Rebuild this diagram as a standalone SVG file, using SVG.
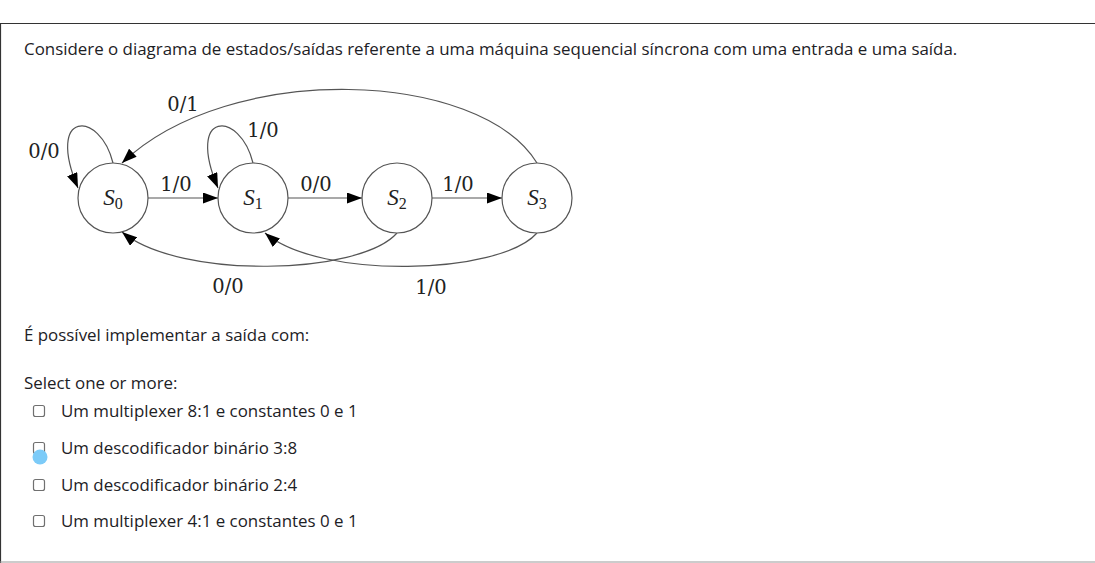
<svg xmlns="http://www.w3.org/2000/svg" width="1095" height="563" viewBox="0 0 1095 563">
<defs>
<style>
.ui{font-family:"Open Sans","Noto Sans",sans-serif;font-size:16.9px;fill:#1d2125}
.lbl{font-family:"DejaVu Serif","Liberation Serif",serif;font-size:19.5px;fill:#222}
.st{font-family:"Liberation Serif","DejaVu Serif",serif;font-size:23px;font-style:italic;fill:#222}
.sub{font-family:"Liberation Serif","DejaVu Serif",serif;font-size:16px;font-style:normal}
.node{fill:#fff;stroke:#555;stroke-width:1.2}
.edge{fill:none;stroke:#555;stroke-width:1.2;marker-end:url(#ah)}
.cb{fill:#fff;stroke:#707070;stroke-width:1.2}
</style>
<marker id="ah" viewBox="0 0 15 11" refX="15" refY="5.5" markerWidth="15" markerHeight="11" markerUnits="userSpaceOnUse" orient="auto">
<path d="M0,0 L15,5.5 L0,11 Z" fill="#000"/>
</marker>
</defs>
<rect x="0" y="0" width="1095" height="563" fill="#fff"/>
<line x1="0" y1="23.5" x2="1095" y2="23.5" stroke="#333" stroke-width="1.2"/>
<line x1="0.5" y1="23" x2="0.5" y2="563" stroke="#333" stroke-width="1.2"/>
<line x1="0" y1="562" x2="1095" y2="562" stroke="#999" stroke-width="1.2"/>
<text class="ui" x="24" y="55">Considere o diagrama de estados/saídas referente a uma máquina sequencial síncrona com uma entrada e uma saída.</text>
<g id="connectors">
<path class="edge" d="M148,198 L218,198"/>
<path class="edge" d="M288,198 L362,198"/>
<path class="edge" d="M432,198 L502,198"/>
<path class="edge" d="M113,163 C100,110 45,110 78,188"/>
<path class="edge" d="M253,163 C240,110 185,110 218,188"/>
<path class="edge" d="M537,163 C480,70 230,60 122,163"/>
<path class="edge" d="M397,233 C360,275 180,280 122,232"/>
<path class="edge" d="M537,233 C500,275 320,280 265,233"/>
<text class="lbl" x="176" y="191" text-anchor="middle">1/0</text>
<text class="lbl" x="316" y="191" text-anchor="middle">0/0</text>
<text class="lbl" x="458" y="191" text-anchor="middle">1/0</text>
<text class="lbl" x="44" y="158" text-anchor="middle">0/0</text>
<text class="lbl" x="263" y="137" text-anchor="middle">1/0</text>
<text class="lbl" x="183" y="111" text-anchor="middle">0/1</text>
<text class="lbl" x="228" y="293" text-anchor="middle">0/0</text>
<text class="lbl" x="431" y="294" text-anchor="middle">1/0</text>
</g>
<g id="S0"><circle class="node" cx="113" cy="198" r="35"/><text class="st" x="113" y="205" text-anchor="middle">S<tspan class="sub" dy="4">0</tspan></text></g>
<g id="S1"><circle class="node" cx="253" cy="198" r="35"/><text class="st" x="253" y="205" text-anchor="middle">S<tspan class="sub" dy="4">1</tspan></text></g>
<g id="S2"><circle class="node" cx="397" cy="198" r="35"/><text class="st" x="397" y="205" text-anchor="middle">S<tspan class="sub" dy="4">2</tspan></text></g>
<g id="S3"><circle class="node" cx="537" cy="198" r="35"/><text class="st" x="537" y="205" text-anchor="middle">S<tspan class="sub" dy="4">3</tspan></text></g>
<text class="ui" x="24" y="341">É possível implementar a saída com:</text>
<text class="ui" x="24" y="389">Select one or more:</text>
<g id="opt1"><rect class="cb" x="33.5" y="405.5" width="11" height="11" rx="2"/><text class="ui" x="61" y="417">Um multiplexer 8:1 e constantes 0 e 1</text></g>
<g id="opt2"><rect class="cb" x="33.5" y="442.5" width="11" height="11" rx="2"/><circle cx="40" cy="457" r="7.5" fill="#7ccbf8"/><text class="ui" x="61" y="454">Um descodificador binário 3:8</text></g>
<g id="opt3"><rect class="cb" x="33.5" y="479.5" width="11" height="11" rx="2"/><text class="ui" x="61" y="491">Um descodificador binário 2:4</text></g>
<g id="opt4"><rect class="cb" x="33.5" y="515.5" width="11" height="11" rx="2"/><text class="ui" x="61" y="527">Um multiplexer 4:1 e constantes 0 e 1</text></g>
</svg>
